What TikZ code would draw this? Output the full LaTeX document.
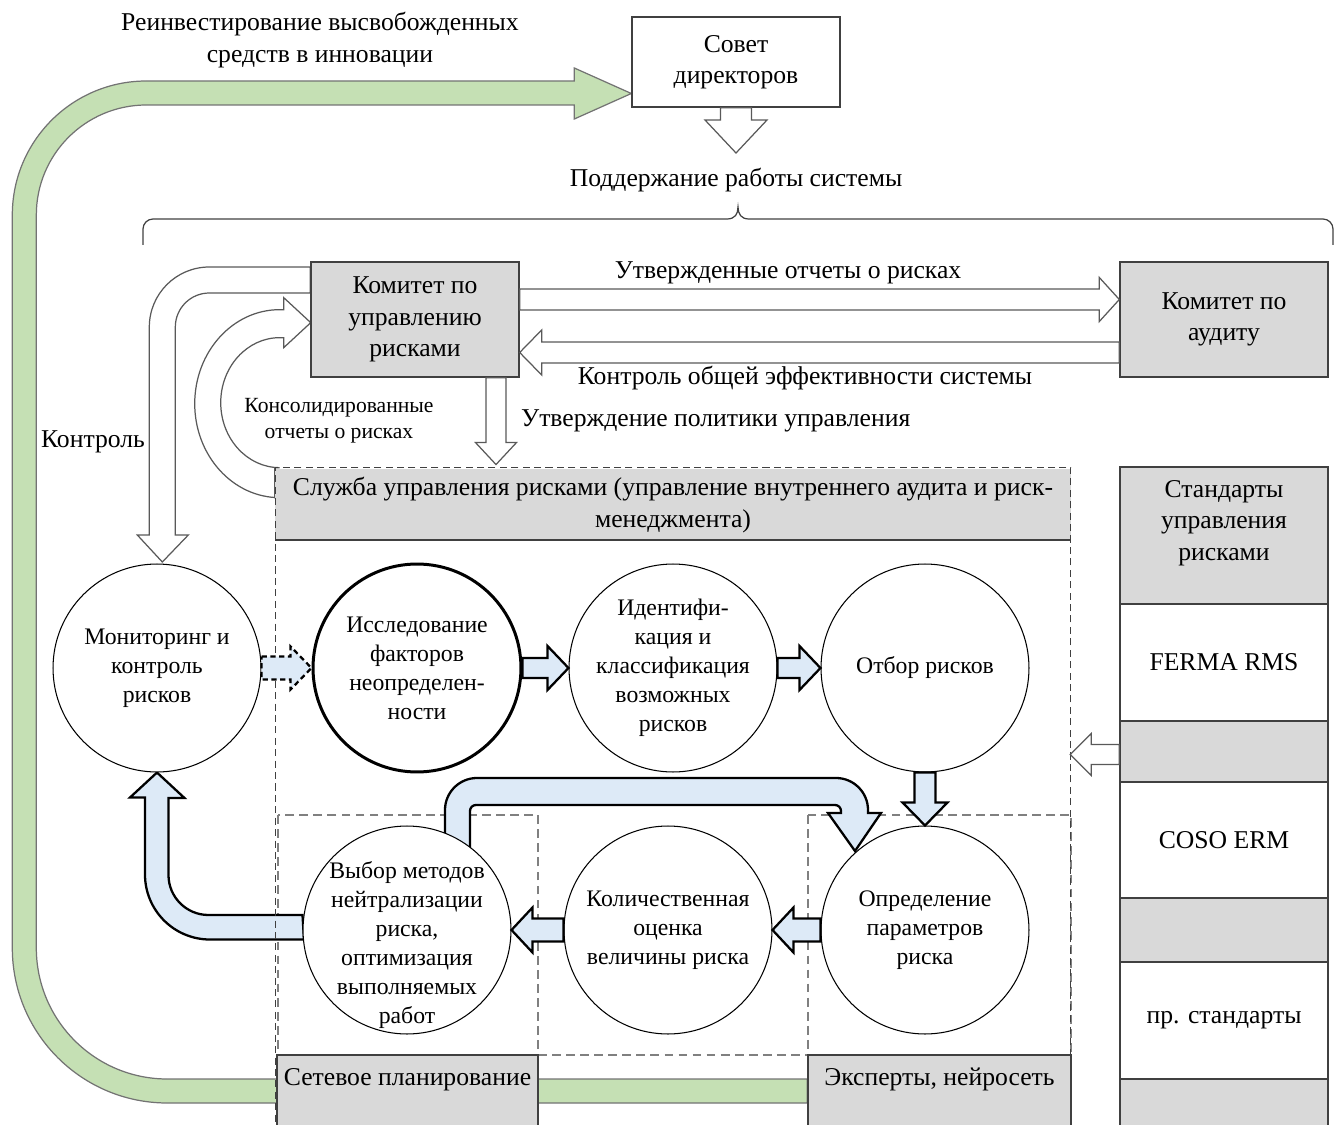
\documentclass[tikz,border=0pt]{standalone}
\usepackage{fontspec}
\setmainfont{Liberation Serif}
\usetikzlibrary{calc}
\pgfdeclarelayer{background}
\pgfsetlayers{background,main}
\definecolor{riskgray}{RGB}{217,217,217}
\definecolor{riskblue}{RGB}{221,234,247}
\definecolor{riskgreen}{RGB}{197,224,180}
\definecolor{riskline}{RGB}{64,64,64}
\newcommand{\mainfs}{\fontsize{14.6}{17.8}\selectfont}
\newcommand{\circfs}{\fontsize{13.5}{16.5}\selectfont}
\newcommand{\smallfs}{\fontsize{12.3}{14.8}\selectfont}
% block arrow: [style]{from}{tip}{half shaft}{half head}{head length}
\newcommand{\fatarr}[6][]{%
  \coordinate (fatbase) at ($(#3)!#6!(#2)$);
  \draw[#1] ($(#2)!#4!90:(#3)$) -- ($(fatbase)!#4!-90:(#2)$)
    -- ($(fatbase)!#5!-90:(#2)$) -- (#3)
    -- ($(fatbase)!#5!90:(#2)$) -- ($(fatbase)!#4!90:(#2)$)
    -- ($(#2)!#4!-90:(#3)$) -- cycle;}
\tikzset{
  plainbox/.style={draw=riskline, line width=0.8pt, fill=white, align=center, font=\mainfs, inner sep=1pt},
  graybox/.style={plainbox, fill=riskgray},
  lbl/.style={align=center, font=\mainfs, inner sep=1pt},
  smalllbl/.style={align=center, font=\smallfs, inner sep=1pt},
  circ/.style={circle, draw=black, line width=0.6pt, fill=white, minimum size=4.16cm, inner sep=0pt, align=center, font=\circfs},
  circlbl/.style={align=center, font=\circfs, inner sep=0pt},
  hollow/.style={draw=black!65, fill=white, line width=0.7pt},
  bluearr/.style={draw=black, fill=riskblue, line width=1.3pt},
  greenarr/.style={draw=black!55, fill=riskgreen, line width=0.7pt},
  framedash/.style={draw=riskline, line width=0.6pt, dash pattern=on 4pt off 2.5pt},
  innerdash/.style={draw=black!50, line width=0.8pt, dash pattern=on 5pt off 3pt},
}
\begin{document}
\begin{tikzpicture}[x=0.02cm, y=-0.02cm]
\useasboundingbox (0,0) rectangle (1336,1125);

% Board and support
\node[plainbox, minimum width=4.16cm, minimum height=1.8cm] (sovet) at (736,62) {Совет\\директоров};
\node[lbl] (reinv) at (320,40) {Реинвестирование высвобожденных\\средств в инновации};
\node[lbl] (support) at (736,180) {Поддержание работы системы};
\coordinate (sovtip) at (736,153);
\fatarr[hollow]{sovet.south}{sovtip}{0.31cm}{0.62cm}{0.66cm}
\draw[riskline, line width=0.7pt] (143,245) -- (143,229) arc[start angle=180, end angle=270, radius=10]
  -- (727,219) .. controls (735,219) and (738,214) .. (738,207)
  .. controls (738,214) and (741,219) .. (749,219)
  -- (1323,219) arc[start angle=270, end angle=360, radius=10] -- (1333,245);

% Committees
\node[graybox, minimum width=4.16cm, minimum height=2.3cm] (kom) at (415,319.5) {Комитет по\\управлению\\рисками};
\node[graybox, minimum width=4.16cm, minimum height=2.3cm] (aud) at (1224,319.5) {Комитет по\\аудиту};
\coordinate (komA) at ($(kom.east)+(0,-20)$);
\coordinate (audA) at ($(aud.west)+(0,-20)$);
\coordinate (komB) at ($(kom.east)+(0,33)$);
\coordinate (audB) at ($(aud.west)+(0,33)$);
\fatarr[hollow]{komA}{audA}{0.21cm}{0.44cm}{0.4cm}
\fatarr[hollow]{audB}{komB}{0.21cm}{0.45cm}{0.44cm}
\node[lbl] (appr) at (788,273) {Утвержденные отчеты о рисках};
\node[lbl] (effc) at (805,378) {Контроль общей эффективности системы};

% Risk service
\node[fill=riskgray, minimum width=15.92cm, minimum height=1.46cm, inner sep=0pt, align=center, font=\mainfs] (sluzh) at (673,505)
  {Служба управления рисками (управление внутреннего аудита и риск-\\менеджмента)};
\node[framedash, minimum width=15.92cm, minimum height=13.46cm, inner sep=0pt] (frame) at (673,803.5) {};
\draw[riskline, line width=0.8pt] (275,540) -- (1071,540);
\coordinate (polA) at ($(kom.south)+(81,0)$);
\coordinate (polB) at ($(frame.north)+(-177,-2)$);
\fatarr[hollow]{polA}{polB}{0.2cm}{0.41cm}{0.44cm}
\node[lbl, anchor=west] (policy) at (519,421) {Утверждение политики управления};
\node[smalllbl] (consol) at (339,421) {Консолидированные\\отчеты о рисках};
\node[lbl] (ctrl) at (93,442) {Контроль};

% Process circles
\node[circ] (mon) at (157,668) {Мониторинг и\\контроль\\рисков};
\node[circ, line width=1.7pt] (isl) at (417,668) {Исследование\\факторов\\неопределен-\\ности};
\node[circ] (ident) at (673,668) {Идентифи-\\кация и\\классификация\\возможных\\рисков};
\node[circ] (otbor) at (925,668) {Отбор рисков};
\node[circ] (opred) at (925,930) {Определение\\параметров\\риска};
\node[circ] (kolich) at (668,930) {Количественная\\оценка\\величины риска};
\node[circ, label={[circlbl, yshift=-0.3cm]center:{Выбор методов\\нейтрализации\\риска,\\оптимизация\\выполняемых\\работ}}] (vybor) at (407,930) {};

\fatarr[bluearr, dash pattern=on 3pt off 2pt]{mon.east}{isl.west}{0.23cm}{0.43cm}{0.42cm}
\fatarr[bluearr]{isl.east}{ident.west}{0.2cm}{0.44cm}{0.42cm}
\fatarr[bluearr]{ident.east}{otbor.west}{0.2cm}{0.44cm}{0.42cm}
\fatarr[bluearr]{otbor.south}{opred.north}{0.21cm}{0.45cm}{0.46cm}
\fatarr[bluearr]{opred.west}{kolich.east}{0.23cm}{0.45cm}{0.42cm}
\fatarr[bluearr]{kolich.west}{vybor.east}{0.23cm}{0.45cm}{0.42cm}

% Tools
\node[graybox, minimum width=5.22cm, minimum height=1.7cm, text depth=0.84cm] (setev) at (407.5,1097.5) {Сетевое планирование};
\node[graybox, minimum width=5.26cm, minimum height=1.7cm, text depth=0.84cm] (expert) at (939.5,1097.5) {Эксперты, нейросеть};

% Standards
\node[graybox, minimum width=4.16cm, minimum height=2.74cm, label={[lbl, yshift=0.25cm]center:{Стандарты\\управления\\рисками}}] (stdhead) at (1224,535.5) {};
\node[plainbox, minimum width=4.16cm, minimum height=2.34cm] (ferma) at (1224,662.5) {FERMA RMS};
\node[graybox, minimum width=4.16cm, minimum height=1.22cm] (gapA) at (1224,751.5) {};
\node[plainbox, minimum width=4.16cm, minimum height=2.32cm] (coso) at (1224,840) {COSO ERM};
\node[graybox, minimum width=4.16cm, minimum height=1.28cm] (gapB) at (1224,930) {};
\node[plainbox, minimum width=4.16cm, minimum height=2.34cm] (other) at (1224,1020.5) {пр. стандарты};
\node[graybox, minimum width=4.16cm, minimum height=1.22cm] (gapC) at (1224,1109.5) {};
\coordinate (stdA) at ($(gapA.west)+(0,3)$);
\coordinate (stdB) at ($(gapA.west)+(-49,3)$);
\fatarr[hollow]{stdA}{stdB}{0.2cm}{0.42cm}{0.42cm}

\begin{pgfonlayer}{background}
% reinvestment loop
\draw[greenarr] ($(expert.west)+(0,-18.5)$) -- ++(-640,0) arc[start angle=90, end angle=180, radius=131]
  -- ++(0,-733) arc[start angle=180, end angle=270, radius=110] -- ++(428,0) -- ++(0,14)
  -- ($(sovet.west)+(0,31.5)$) -- ++(-57,-25.5) -- ++(0,13) -- ++(-428,0)
  arc[start angle=270, end angle=180, radius=134] -- ++(0,733)
  arc[start angle=180, end angle=90, radius=155] -- ++(640,0) -- cycle;
% inner frames
\draw[innerdash] (278,815) rectangle (538,1055);
\draw[innerdash] (808,815) rectangle (1071,1055);
\draw[innerdash] (538,1055) -- (808,1055);
% feedback bands
\draw[bluearr] ($(vybor.west)+(0,-15)$) -- ++(-94,0) arc[start angle=90, end angle=180, radius=40]
  -- ++(0,-77) -- ++(16,0) -- (mon.south) -- ++(-27,25) -- ++(15,0) -- ++(0,77)
  arc[start angle=180, end angle=90, radius=65] -- ++(94,0) -- cycle;
\draw[bluearr] ($(vybor.center)+(38,-80)$) -- ++(0,-40) arc[start angle=180, end angle=270, radius=32]
  -- ++(359,0) arc[start angle=270, end angle=360, radius=32] -- ++(0,3) -- ++(13,0)
  -- ++(-26,38) -- ++(-27,-38) -- ++(13,0) -- ++(0,-2) arc[start angle=0, end angle=-90, radius=6]
  -- ++(-359,0) arc[start angle=270, end angle=180, radius=6] -- ++(0,39) -- cycle;
% control and reports
\draw[hollow] ($(kom.west)+(0,-52.5)$) -- ++(-101,0) arc[start angle=270, end angle=180, radius=60]
  -- ++(0,208) -- ++(-12,0) -- ++(25,27) -- ++(26,-27) -- ++(-13,0) -- ++(0,-208)
  arc[start angle=180, end angle=270, radius=34] -- ++(101,0) -- cycle;
\draw[hollow] ($(sluzh.north west)+(0,29.5)$) -- ++(5,0) arc[start angle=90, end angle=270, x radius=85, y radius=94]
  -- ++(4,0) -- ++(0,-12) -- ++(27,25) -- ++(-27,25) -- ++(0,-10) -- ++(-4,0)
  arc[start angle=270, end angle=90, x radius=59, y radius=65] -- ++(-5,0) -- cycle;
\end{pgfonlayer}
\end{tikzpicture}
\end{document}
